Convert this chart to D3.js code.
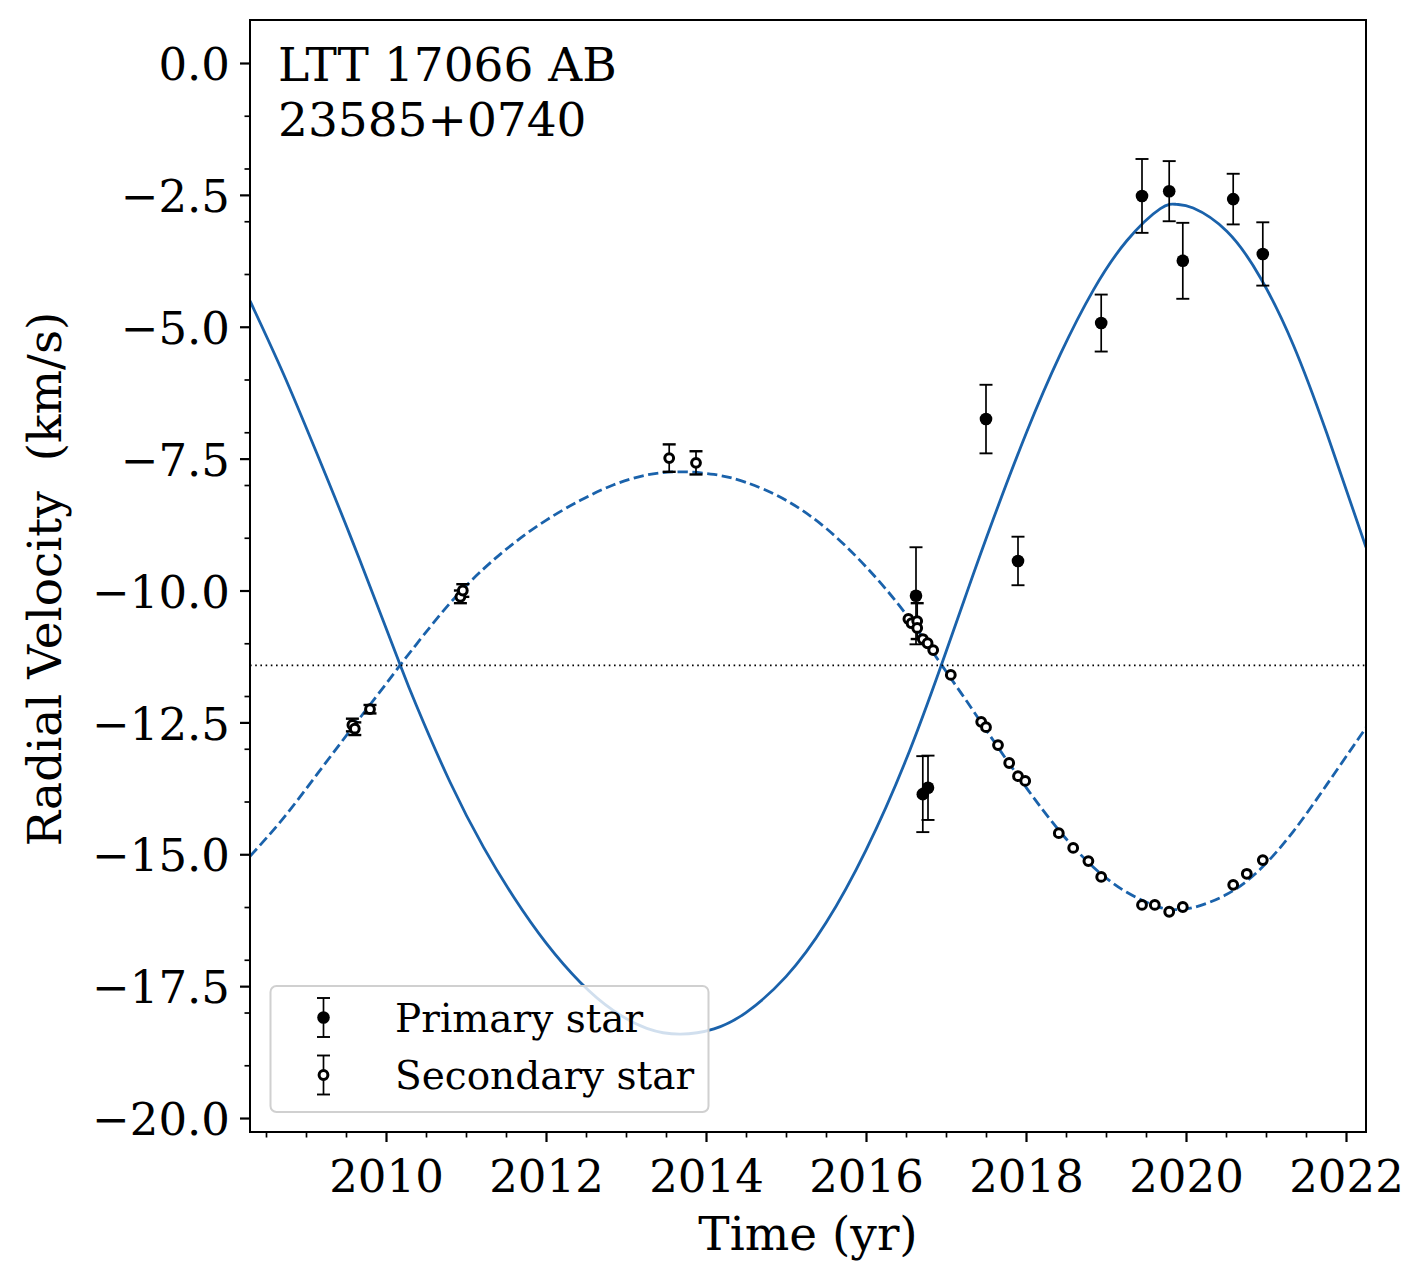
<!DOCTYPE html>
<html>
<head>
<meta charset="utf-8">
<script src="https://cdn.jsdelivr.net/npm/d3@7"></script>
<style>
  body { margin: 0; background: #fff; }
  svg { display: block; font-family: "DejaVu Serif", serif; }
</style>
</head>
<body>
<svg id="chart" width="1426" height="1284"></svg>
<script>
// ---------------- data ----------------
const primaryYear = [2016.625, 2016.71, 2016.775, 2017.50, 2017.90, 2018.94, 2019.45, 2019.79, 2019.96, 2020.59, 2020.96];
const primaryRV   = [-10.10, -13.86, -13.74, -6.75, -9.44, -4.93, -2.52, -2.43, -3.75, -2.58, -3.62];
const primaryErr  = [0.92, 0.72, 0.61, 0.65, 0.46, 0.54, 0.70, 0.57, 0.72, 0.48, 0.60];

const secondaryYear = [2009.58, 2009.61, 2009.80, 2010.93, 2010.96, 2013.54, 2013.875,
  2016.53, 2016.57, 2016.64, 2016.64, 2016.71, 2016.77, 2016.84, 2017.06,
  2017.44, 2017.50, 2017.65, 2017.79, 2017.90, 2017.99,
  2018.41, 2018.59, 2018.78, 2018.94, 2019.45, 2019.61, 2019.79, 2019.96,
  2020.59, 2020.76, 2020.96];
const secondaryRV = [-12.55, -12.62, -12.25, -10.12, -10.00, -7.49, -7.58,
  -10.54, -10.62, -10.58, -10.71, -10.92, -11.00, -11.13, -11.60,
  -12.49, -12.59, -12.93, -13.27, -13.52, -13.61,
  -14.60, -14.88, -15.13, -15.43, -15.96, -15.96, -16.09, -16.00,
  -15.58, -15.37, -15.11];
const secondaryErr = [0.12, 0.12, 0.08, 0.12, 0.12, 0.26, 0.22,
  0, 0, 0.34, 0, 0, 0, 0, 0,
  0, 0, 0, 0, 0, 0,
  0, 0, 0, 0, 0, 0, 0, 0,
  0, 0, 0];

// orbit model curves
const curveYear = [2008.30, 2008.72, 2009.13, 2009.55, 2009.97, 2010.18, 2010.38, 2010.80, 2011.22, 2011.60,
  2012.00, 2012.43, 2012.84, 2013.26, 2013.68, 2014.10, 2014.50, 2015.00, 2015.50, 2016.00,
  2016.50, 2016.94, 2017.26, 2017.59, 2018.01, 2018.43, 2018.84, 2019.26, 2019.68, 2019.88,
  2020.09, 2020.51, 2020.93, 2021.34, 2021.76, 2022.25];
const primaryModel = [-4.51, -5.90, -7.38, -8.95, -10.59, -11.42, -12.18, -13.63, -14.87, -15.82,
  -16.68, -17.43, -17.96, -18.30, -18.41, -18.31, -18.00, -17.32, -16.30, -14.92,
  -13.21, -11.42, -10.04, -8.65, -6.99, -5.52, -4.31, -3.37, -2.76, -2.68,
  -2.75, -3.19, -4.07, -5.34, -7.02, -9.18];
const secondaryModel = [-15.04, -14.31, -13.50, -12.66, -11.83, -11.41, -11.02, -10.24, -9.59, -9.10,
  -8.67, -8.29, -8.00, -7.81, -7.75, -7.80, -7.95, -8.29, -8.82, -9.55,
  -10.45, -11.40, -12.10, -12.84, -13.75, -14.58, -15.24, -15.72, -16.01, -16.05,
  -16.01, -15.76, -15.28, -14.57, -13.68, -12.60];

const systemicRV = -11.42;

const xMajor = [2010, 2012, 2014, 2016, 2018, 2020, 2022];
const xMinor = [2008.5, 2009, 2009.5, 2010.5, 2011, 2011.5, 2012.5, 2013, 2013.5, 2014.5, 2015, 2015.5,
  2016.5, 2017, 2017.5, 2018.5, 2019, 2019.5, 2020.5, 2021, 2021.5];
const yMajor = [0, -2.5, -5, -7.5, -10, -12.5, -15, -17.5, -20];
const yMinor = [-1, -2, -3, -4, -6, -7, -8, -9, -11, -12, -13, -14, -16, -17, -18, -19];

const titleLines = ["LTT 17066 AB", "23585+0740"];
const legendLabels = ["Primary star", "Secondary star"];

// ---------------- drawing ----------------
const svg = d3.select("#chart");
const L = 250, R = 1366, T = 20, B = 1132;
const blue = "#1a62ab";
const x = d3.scaleLinear().domain([2008.3, 2022.25]).range([L, R]);
const y = d3.scaleLinear().domain([-20.265, 0.815]).range([B, T]);

svg.append("rect").attr("width", 1426).attr("height", 1284).attr("fill", "#fff");

svg.append("defs").append("clipPath").attr("id", "clip")
  .append("rect").attr("x", L).attr("y", T).attr("width", R - L).attr("height", B - T);

const plot = svg.append("g").attr("clip-path", "url(#clip)");

const line = d3.line().x(d => x(d[0])).y(d => y(d[1])).curve(d3.curveNatural);

plot.append("path")
  .attr("d", line(curveYear.map((t, i) => [t, primaryModel[i]])))
  .attr("fill", "none").attr("stroke", blue).attr("stroke-width", 2.8);

plot.append("path")
  .attr("d", line(curveYear.map((t, i) => [t, secondaryModel[i]])))
  .attr("fill", "none").attr("stroke", blue).attr("stroke-width", 2.8)
  .attr("stroke-dasharray", "10.3,4.5");

plot.append("line")
  .attr("x1", L).attr("x2", R).attr("y1", y(systemicRV)).attr("y2", y(systemicRV))
  .attr("stroke", "#000").attr("stroke-width", 1.6).attr("stroke-dasharray", "1.6,3.6");

function errorbars(g, xs, vs, es, capW, sw) {
  const data = xs.map((t, i) => ({ t, v: vs[i], e: es[i] }));
  const withErr = data.filter(d => d.e > 0);
  const eg = g.append("g");
  eg.selectAll(".v").data(withErr).join("line")
    .attr("x1", d => x(d.t)).attr("x2", d => x(d.t))
    .attr("y1", d => y(d.v - d.e)).attr("y2", d => y(d.v + d.e))
    .attr("stroke", "#000").attr("stroke-width", 1.7);
  [1, -1].forEach(s => {
    eg.selectAll(".c" + s).data(withErr).join("line")
      .attr("x1", d => x(d.t) - capW).attr("x2", d => x(d.t) + capW)
      .attr("y1", d => y(d.v + s * d.e)).attr("y2", d => y(d.v + s * d.e))
      .attr("stroke", "#000").attr("stroke-width", sw);
  });
  return data;
}

const pd = errorbars(plot, primaryYear, primaryRV, primaryErr, 6.5, 1.9);
plot.append("g").selectAll("circle").data(pd).join("circle")
  .attr("cx", d => x(d.t)).attr("cy", d => y(d.v)).attr("r", 6.3).attr("fill", "#000");

const sd = errorbars(plot, secondaryYear, secondaryRV, secondaryErr, 6.5, 2.4);
plot.append("g").selectAll("circle").data(sd).join("circle")
  .attr("cx", d => x(d.t)).attr("cy", d => y(d.v)).attr("r", 4.4)
  .attr("fill", "#fff").attr("stroke", "#000").attr("stroke-width", 3);

// frame
svg.append("rect").attr("x", L).attr("y", T).attr("width", R - L).attr("height", B - T)
  .attr("fill", "none").attr("stroke", "#000").attr("stroke-width", 2);

// axes
const fontSize = 45;
const labelSize = 47;
const xAxis = svg.append("g").attr("transform", `translate(0,${B})`)
  .call(d3.axisBottom(x).tickValues(xMajor).tickSize(10).tickPadding(0).tickFormat(d3.format("d")));
xAxis.select(".domain").remove();
xAxis.selectAll("line").attr("stroke-width", 2.2);
xAxis.selectAll("text").attr("font-size", fontSize).attr("font-family", "DejaVu Serif")
  .attr("y", 60).attr("dy", 0).attr("fill", "#000");

const xAxisMinor = svg.append("g").attr("transform", `translate(0,${B})`)
  .call(d3.axisBottom(x).tickValues(xMinor).tickSize(5.5).tickFormat(""));
xAxisMinor.select(".domain").remove();
xAxisMinor.selectAll("line").attr("stroke-width", 1.7);

const yFmt = v => (v === 0 ? "0.0" : d3.format(".1f")(v).replace("-", "\u2212"));
const yAxis = svg.append("g").attr("transform", `translate(${L},0)`)
  .call(d3.axisLeft(y).tickValues(yMajor).tickSize(10).tickPadding(10).tickFormat(yFmt));
yAxis.select(".domain").remove();
yAxis.selectAll("line").attr("stroke-width", 2.2);
yAxis.selectAll("text").attr("font-size", fontSize).attr("font-family", "DejaVu Serif")
  .attr("dy", "0.37em").attr("fill", "#000");

const yAxisMinor = svg.append("g").attr("transform", `translate(${L},0)`)
  .call(d3.axisLeft(y).tickValues(yMinor).tickSize(5.5).tickFormat(""));
yAxisMinor.select(".domain").remove();
yAxisMinor.selectAll("line").attr("stroke-width", 1.7);

// axis labels
svg.append("text").attr("x", (L + R) / 2).attr("y", 1250).attr("text-anchor", "middle")
  .attr("font-size", labelSize).text("Time (yr)");
svg.append("text").attr("transform", `translate(61,579) rotate(-90)`)
  .attr("text-anchor", "middle").attr("font-size", labelSize)
  .style("white-space", "pre").text("Radial Velocity  (km/s)");

// title annotation
titleLines.forEach((s, i) => {
  svg.append("text").attr("x", 278).attr("y", 81 + i * 55).attr("font-size", labelSize).text(s);
});

// legend
const lg = svg.append("g");
lg.append("rect").attr("x", 270.5).attr("y", 986).attr("width", 438).attr("height", 126)
  .attr("rx", 6).attr("fill", "rgba(255,255,255,0.8)").attr("stroke", "#d0d0d0").attr("stroke-width", 2);
const hx = 323.5;
[[1017.5, 19.5, true], [1075, 19.5, false]].forEach(([cy, h, filled], i) => {
  lg.append("line").attr("x1", hx).attr("x2", hx).attr("y1", cy - h).attr("y2", cy + h)
    .attr("stroke", "#000").attr("stroke-width", 1.7);
  [-h, h].forEach(o => lg.append("line").attr("x1", hx - 6.5).attr("x2", hx + 6.5)
    .attr("y1", cy + o).attr("y2", cy + o).attr("stroke", "#000").attr("stroke-width", 1.9));
  if (filled) {
    lg.append("circle").attr("cx", hx).attr("cy", cy).attr("r", 6.3).attr("fill", "#000");
  } else {
    lg.append("circle").attr("cx", hx).attr("cy", cy).attr("r", 4.4).attr("fill", "#fff")
      .attr("stroke", "#000").attr("stroke-width", 3);
  }
  lg.append("text").attr("x", 395).attr("y", cy + 14).attr("font-size", 39).text(legendLabels[i]);
});
</script>
</body>
</html>
